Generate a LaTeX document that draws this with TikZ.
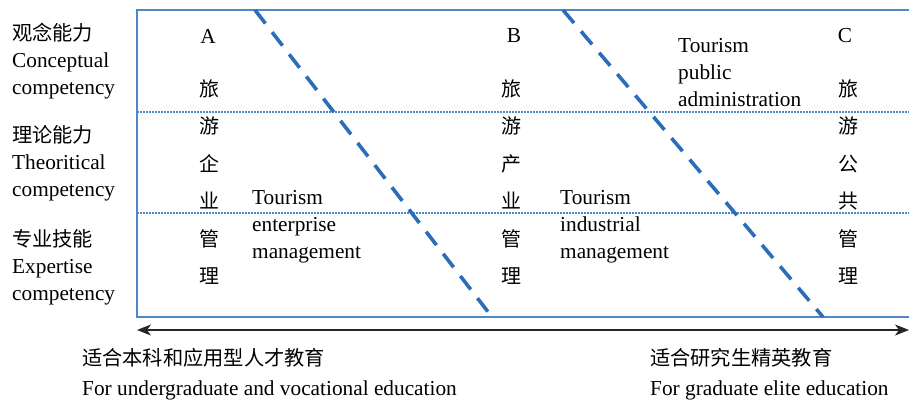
\documentclass[tikz,border=0pt]{standalone}
\usepackage{fontspec}
\setmainfont{Liberation Serif}
\newfontfamily\cjk{Noto Sans CJK SC}[Scale=0.95]
\usetikzlibrary{arrows.meta}
\definecolor{boxblue}{HTML}{4F88C6}
\definecolor{dashblue}{HTML}{2A6EBB}
\tikzset{
  txt/.style={font=\fontsize{21.3}{27}\selectfont, inner sep=0pt, align=left, anchor=west},
  col/.style={font=\fontsize{21}{37.5}\selectfont\cjk, inner sep=0pt, align=center},
  letter/.style={font=\fontsize{21.3}{25}\selectfont, inner sep=0pt},
  frame/.style={draw=boxblue, line width=1.6pt},
  divider/.style={draw=boxblue, line width=1.5pt, dash pattern=on 1.5pt off 1.5pt},
  splitter/.style={draw=dashblue, line width=3.6pt, dash pattern=on 17pt off 11pt},
  axis/.style={draw=black!85, line width=1.2pt, {Stealth[length=14pt,width=11pt,inset=4pt]}-{Stealth[length=14pt,width=11pt,inset=4pt]}}
}
\begin{document}
\begin{tikzpicture}[x=1pt,y=-1pt]
\useasboundingbox (0,0) rectangle (909,402);
% frame
\coordinate (fTR) at (909,10);
\coordinate (fTL) at (137,10);
\coordinate (fBL) at (137,317);
\coordinate (fBR) at (909,317);
\draw[frame] (fTR) -- (fTL) -- (fBL) -- (fBR);
% dotted dividers
\coordinate (d1L) at (137,112);
\coordinate (d1R) at (909,112);
\coordinate (d2L) at (137,213);
\coordinate (d2R) at (909,213);
\draw[divider] (d1L) -- (d1R);
\draw[divider] (d2L) -- (d2R);
% dashed splitters
\coordinate (s1T) at (255,10);
\coordinate (s1B) at (492,317);
\coordinate (s2T) at (563,10);
\coordinate (s2B) at (823,317);
\draw[splitter] (s1T) -- (s1B);
\draw[splitter] (s2T) -- (s2B);
% axis arrow
\coordinate (aL) at (137,330);
\coordinate (aR) at (909,330);
\draw[axis] (aL) -- (aR);
% left labels
\node[txt] (l1) at (12,61) {{\cjk 观念能力}\\Conceptual\\competency};
\node[txt] (l2) at (12,163) {{\cjk 理论能力}\\Theoritical\\competency};
\node[txt] (l3) at (12,267) {{\cjk 专业技能}\\Expertise\\competency};
% column letters
\node[letter] (A) at (208,36) {A};
\node[letter] (B) at (514,36) {B};
\node[letter] (C) at (845,36) {C};
% vertical chinese columns
\node[col] (cA) at (209,182) {旅\\游\\企\\业\\管\\理};
\node[col] (cB) at (511,182) {旅\\游\\产\\业\\管\\理};
\node[col] (cC) at (848,182) {旅\\游\\公\\共\\管\\理};
% zone labels
\node[txt] (zA) at (252,227) {Tourism\\enterprise\\management};
\node[txt] (zB) at (560,227) {Tourism\\industrial\\management};
\node[txt] (zC) at (678,73) {Tourism\\public\\administration};
% bottom labels
\node[txt] (bL1) at (82,358) {\cjk 适合本科和应用型人才教育};
\node[txt] (bL2) at (82,390) {For undergraduate and vocational education};
\node[txt] (bR1) at (650,358) {\cjk 适合研究生精英教育};
\node[txt] (bR2) at (650,390) {For graduate elite education};
\end{tikzpicture}
\end{document}
